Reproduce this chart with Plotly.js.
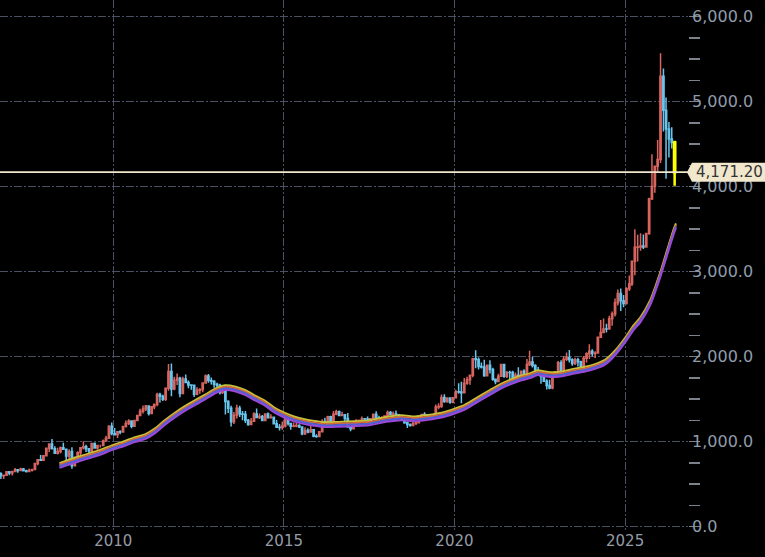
<!DOCTYPE html>
<html><head><meta charset="utf-8">
<script src="https://cdn.plot.ly/plotly-3.0.1.min.js"></script>
<style>html,body{margin:0;padding:0;background:#000;}#chart{width:765px;height:557px;}</style>
</head><body><div id="chart"></div>
<script>
// Monthly candles, first month = Sep 2006
const startYear = 2006, startMonth = 9;

const open = [
 623,599,604,646,
 632,650,669,662,679,659,650,665,673,743,789,783,
 834,923,972,916,864,885,928,912,833,884,718,816,
 869,928,942,916,891,980,927,955,955,1008,1040,1182,
 1096,1081,1118,1113,1180,1213,1244,1181,1248,1307,1358,1386,
 1421,1332,1411,1439,1556,1536,1500,1628,1827,1620,1722,1746,
 1566,1738,1696,1668,1664,1558,1604,1614,1692,1773,1719,1712,
 1675,1663,1579,1595,1472,1393,1234,1312,1395,1327,1323,1253,
 1202,1240,1326,1284,1296,1250,1327,1282,1287,1210,1171,1167,
 1184,1283,1213,1183,1184,1190,1172,1095,1132,1115,1142,1065,
 1061,1118,1238,1233,1293,1215,1322,1351,1309,1316,1272,1173,
 1152,1211,1249,1249,1269,1268,1242,1269,1322,1280,1271,1275,
 1303,1345,1318,1325,1316,1299,1253,1224,1201,1192,1215,1222,
 1282,1321,1313,1292,1284,1305,1409,1414,1520,1472,1513,1464,
 1517,1589,1585,1577,1687,1730,1781,1975,1968,1886,1879,1777,
 1898,1848,1734,1708,1769,1907,1770,1814,1813,1743,1783,1774,
 1829,1796,1909,1937,1897,1837,1807,1766,1711,1661,1633,1768,
 1824,1928,1827,1969,1990,1963,1919,1965,1940,1871,1983,2036,
 2063,2039,2044,2230,2286,2327,2326,2447,2503,2635,2744,2657,
 2625,2798,2858,3124,3289,3290,3303,3290,3448,3858,4003,4240,
 4320,5300,4900,4680,4560,4520
];
const high = [
 640,610,650,650,
 659,690,672,694,691,671,682,676,745,792,845,839,
 929,974,1033,947,928,944,988,917,910,936,825,887,
 934,1006,965,916,985,990,958,965,1026,1070,1195,1227,
 1162,1127,1135,1181,1249,1265,1244,1249,1309,1388,1425,1432,
 1424,1411,1448,1576,1577,1553,1632,1913,1921,1764,1803,1764,
 1764,1791,1719,1677,1665,1640,1630,1693,1790,1796,1755,1724,
 1695,1683,1617,1606,1488,1424,1348,1434,1424,1362,1361,1267,
 1280,1346,1392,1331,1315,1326,1345,1322,1291,1255,1208,1239,
 1307,1283,1220,1225,1232,1205,1175,1170,1157,1191,1142,1088,
 1123,1263,1282,1305,1304,1362,1375,1367,1352,1318,1337,1180,
 1220,1264,1262,1296,1272,1296,1270,1326,1358,1306,1299,1309,
 1366,1361,1356,1366,1317,1309,1266,1237,1214,1243,1237,1284,
 1326,1346,1324,1310,1306,1439,1453,1555,1557,1517,1515,1524,
 1611,1689,1704,1748,1765,1789,1984,2075,1992,1933,1965,1906,
 1959,1871,1740,1798,1913,1917,1832,1834,1834,1814,1877,1831,
 1853,1974,2070,1998,1910,1879,1814,1808,1735,1729,1786,1833,
 1949,1959,2009,2049,2079,1983,1987,1987,1953,2009,2052,2146,
 2088,2065,2236,2431,2450,2387,2483,2531,2685,2790,2801,2726,
 2817,2956,3128,3500,3435,3452,3439,3453,3871,4381,4245,4550,
 5570,5390,5050,4760,4700,4540
];
const low = [
 560,560,603,605,
 603,647,636,662,650,637,646,650,670,722,775,783,
 834,878,911,860,849,860,911,786,740,681,707,749,
 802,909,880,865,880,922,905,932,952,1002,1040,1076,
 1072,1045,1088,1111,1166,1197,1157,1176,1243,1307,1331,1360,
 1309,1325,1381,1417,1462,1478,1478,1600,1535,1604,1667,1523,
 1563,1689,1628,1611,1527,1546,1564,1582,1686,1695,1672,1635,
 1626,1555,1562,1321,1338,1180,1208,1274,1292,1251,1221,1187,
 1202,1240,1277,1268,1240,1240,1280,1273,1207,1161,1131,1142,
 1167,1190,1142,1170,1170,1162,1077,1080,1098,1111,1053,1046,
 1061,1110,1208,1207,1199,1199,1310,1301,1303,1241,1171,1123,
 1147,1208,1194,1243,1214,1237,1204,1266,1275,1261,1264,1237,
 1303,1307,1303,1301,1282,1246,1211,1160,1180,1182,1196,1221,
 1276,1303,1280,1266,1266,1301,1382,1400,1459,1459,1446,1453,
 1517,1564,1451,1568,1670,1671,1757,1863,1849,1860,1764,1776,
 1803,1717,1677,1705,1766,1751,1750,1688,1721,1722,1758,1753,
 1781,1780,1890,1872,1787,1805,1681,1709,1615,1617,1616,1765,
 1822,1805,1810,1950,1932,1893,1903,1885,1846,1810,1931,1973,
 2002,1984,2039,2228,2277,2286,2319,2364,2472,2603,2537,2583,
 2614,2772,2833,2957,3121,3247,3268,3281,3436,3845,3929,4180,
 4280,4650,4094,4345,4450,4012
];
const close = [
 599,604,646,632,
 650,669,662,679,659,650,665,673,743,789,783,834,
 923,972,916,864,885,928,912,833,884,718,816,869,
 928,942,916,891,980,927,955,955,1008,1040,1182,1096,
 1081,1118,1113,1180,1213,1244,1181,1248,1307,1358,1386,1421,
 1332,1411,1439,1556,1536,1500,1628,1827,1620,1722,1746,1566,
 1738,1696,1668,1664,1558,1604,1614,1692,1773,1719,1712,1675,
 1663,1579,1595,1472,1393,1234,1312,1395,1327,1323,1253,1202,
 1240,1326,1284,1296,1250,1327,1282,1287,1210,1171,1167,1184,
 1283,1213,1183,1184,1190,1172,1095,1132,1115,1142,1065,1061,
 1118,1238,1233,1293,1215,1322,1351,1309,1316,1272,1173,1152,
 1211,1249,1249,1269,1268,1242,1269,1322,1280,1271,1275,1303,
 1345,1318,1325,1316,1299,1253,1224,1201,1192,1215,1222,1282,
 1321,1313,1292,1284,1305,1409,1414,1520,1472,1513,1464,1517,
 1589,1585,1577,1687,1730,1781,1975,1968,1886,1879,1777,1898,
 1848,1734,1708,1769,1907,1770,1814,1813,1743,1783,1774,1829,
 1796,1909,1937,1897,1837,1807,1766,1711,1661,1633,1768,1824,
 1928,1827,1969,1990,1963,1919,1965,1940,1871,1983,2036,2063,
 2039,2044,2230,2286,2327,2326,2447,2503,2635,2744,2657,2625,
 2798,2858,3124,3289,3290,3303,3290,3448,3858,4003,4240,4320,
 5300,4900,4680,4560,4520,4171.20
];

// Moving-average ribbon
const maDates = ['2008-06-03','2008-10-01','2009-01-08','2009-05-05','2009-08-11','2010-01-01','2010-05-05','2010-08-07','2010-12-06',
 '2011-04-01','2011-07-06','2011-10-19','2012-02-06','2012-05-27','2012-09-09','2013-01-01','2013-04-08','2013-07-24','2013-11-10',
 '2014-02-25','2014-06-10','2014-09-24','2015-01-12','2015-04-27','2015-08-11','2015-11-25','2016-04-01','2016-08-07','2017-01-30',
 '2017-07-02','2018-01-01','2018-06-14','2018-11-03','2019-03-25','2019-08-15','2020-01-04','2020-04-20','2020-08-07','2021-01-15',
 '2021-05-08','2021-08-15','2021-12-02','2022-03-18','2022-06-14','2022-08-22','2022-12-10','2023-03-14','2023-07-09','2023-10-19',
 '2024-02-14','2024-05-31','2024-09-16','2025-01-01','2025-04-01','2025-06-10','2025-09-24','2026-01-08','2026-03-21','2026-06-03','2026-06-29'];
const maValues = [720,765,800,840,875,935,980,1020,1058,
 1135,1225,1310,1390,1460,1525,1600,1635,1622,1580,
 1515,1455,1370,1310,1265,1235,1215,1200,1205,1212,
 1222,1262,1282,1268,1285,1312,1360,1405,1475,1580,
 1650,1700,1745,1776,1812,1798,1788,1800,1830,1850,
 1885,1935,2045,2195,2340,2430,2630,2950,3205,3465,3540];

const yTickVals = [0,1000,2000,3000,4000,5000,6000];
const xTickVals = ['2010-01-01','2015-01-01','2020-01-01','2025-01-01'];
const xTickText = ['2010','2015','2020','2025'];
const lastPriceText = '4,171.20';

const dates = open.map((_, i) => {
  const m = startMonth - 1 + i;
  const y = startYear + Math.floor(m / 12);
  const mm = (m % 12) + 1;
  return y + '-' + String(mm).padStart(2, '0') + '-15';
});
const n = open.length;
const lastPrice = close[n - 1];

const traces = [];
traces.push({
  type: 'candlestick', x: dates.slice(0, n - 1),
  open: open.slice(0, n - 1), high: high.slice(0, n - 1), low: low.slice(0, n - 1), close: close.slice(0, n - 1),
  increasing: {line: {color: '#d8645f', width: 1.5}, fillcolor: '#c4524d'},
  decreasing: {line: {color: '#68c6ee', width: 1.5}, fillcolor: '#58bae5'},
  whiskerwidth: 0, hoverinfo: 'skip', showlegend: false
});
traces.push({
  type: 'candlestick', x: dates.slice(n - 1),
  open: open.slice(n - 1), high: high.slice(n - 1), low: low.slice(n - 1), close: close.slice(n - 1),
  increasing: {line: {color: '#ffff00', width: 2.5}, fillcolor: '#ffff00'},
  decreasing: {line: {color: '#ffff00', width: 2.5}, fillcolor: '#ffff00'},
  whiskerwidth: 0, hoverinfo: 'skip', showlegend: false
});

const ribbon = [
  {color: '#9a48d8', ax: 'y5'},
  {color: '#4a62d8', ax: 'y4'},
  {color: '#d26a3a', ax: 'y3'},
  {color: '#c4c43a', ax: 'y2'}
];
ribbon.forEach(r => traces.push({
  type: 'scatter', mode: 'lines', x: maDates, y: maValues, yaxis: r.ax,
  line: {color: r.color, width: 2, shape: 'spline', smoothing: 0.6},
  hoverinfo: 'skip', showlegend: false
}));

const R0 = -38.8, R1 = 6196.5;
const upp = (R1 - R0) / 530; // units per pixel
const shifted = px => ({overlaying: 'y', visible: false, range: [R0 - px * upp, R1 - px * upp], fixedrange: true});

const gridColor = '#4a5062';
const layout = {
  width: 765, height: 557,
  paper_bgcolor: '#000000', plot_bgcolor: '#000000',
  margin: {l: 0, r: 77, t: 0, b: 27},
  showlegend: false,
  font: {family: 'DejaVu Sans', size: 16, color: '#8f9cab'},
  xaxis: {
    type: 'date', range: ['2006-09-06', '2026-11-05'],
    rangeslider: {visible: false},
    tickvals: xTickVals, ticktext: xTickText,
    showgrid: true, gridcolor: gridColor, griddash: '8px,2px,2px,2px', gridwidth: 1,
    zeroline: false, showline: false, ticks: '',
    tickfont: {family: 'DejaVu Sans', size: 15, color: '#959ca6'}, fixedrange: true
  },
  yaxis: {
    side: 'right', range: [R0, R1], tickvals: yTickVals, tickformat: ',.1f',
    showgrid: true, gridcolor: gridColor, griddash: '8px,2px,2px,2px', gridwidth: 1,
    zeroline: false, showline: false, ticks: '', ticklabelstandoff: 3,
    minor: {dtick: 250, ticks: 'outside', ticklen: 11, tickcolor: '#7c828c', tickwidth: 1.5, showgrid: false},
    tickfont: {family: 'DejaVu Sans', size: 16, color: '#8f9cab'}, fixedrange: true
  },
  yaxis2: shifted(2.4),
  yaxis3: shifted(0.8),
  yaxis4: shifted(-0.8),
  yaxis5: shifted(-2.4),
  shapes: [
    {type: 'line', xref: 'paper', yref: 'y', x0: 0, x1: 1, y0: lastPrice, y1: lastPrice,
     line: {color: '#f1e7cd', width: 1.6}},
    {type: 'path', xref: 'paper', yref: 'y', fillcolor: '#f1e7cd', line: {width: 0},
     path: 'M 0.9985 ' + lastPrice + ' L 1.0058 ' + (lastPrice + 9.5 * upp) + ' L 1.112 ' + (lastPrice + 9.5 * upp) +
           ' L 1.112 ' + (lastPrice - 9.5 * upp) + ' L 1.0058 ' + (lastPrice - 9.5 * upp) + ' Z'}
  ],
  annotations: [
    {xref: 'paper', yref: 'y', x: 1.0596, y: lastPrice, text: lastPriceText, showarrow: false,
     xanchor: 'center', yanchor: 'middle', font: {family: 'DejaVu Sans', size: 15, color: '#333333'}}
  ]
};

Plotly.newPlot('chart', traces, layout, {staticPlot: true, displayModeBar: false});
</script>
</body></html>
